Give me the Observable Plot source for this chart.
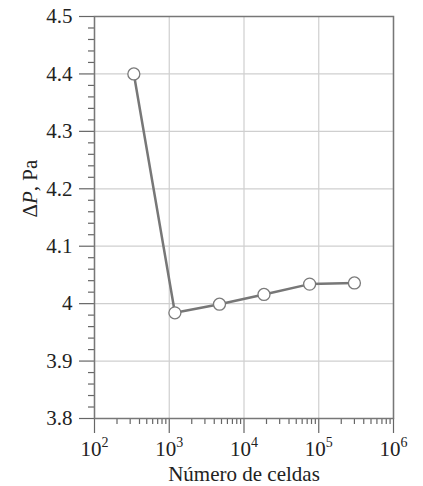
<!DOCTYPE html>
<html><head><meta charset="utf-8">
<script src="https://cdn.jsdelivr.net/npm/d3@7"></script>
<script src="https://cdn.jsdelivr.net/npm/@observablehq/plot@0.6"></script>
<style>
body{margin:0;background:#fff}
</style>
</head><body><div id="chart"></div>
<script>
const cells = [336, 1190, 4700, 18500, 75500, 300000];
const deltaP = [4.400, 3.984, 3.999, 4.016, 4.034, 4.036];
const xExponents = [2, 3, 4, 5, 6];
const yTicks = [3.8, 3.9, 4.0, 4.1, 4.2, 4.3, 4.4, 4.5];
const xLabel = "Número de celdas";
const yLabel = "ΔP, Pa";

const data = cells.map((c, i) => ({cells: c, dp: deltaP[i]}));
const xMajor = xExponents.map(e => 10 ** e);
const xMinor = xExponents.slice(0, -1).flatMap(e => d3.range(2, 10).map(k => k * 10 ** e));
const yMinor = d3.range(0, 36).map(i => +(3.8 + i * 0.02).toFixed(2))
  .filter(v => Math.abs(v * 10 - Math.round(v * 10)) > 1e-6);

const ink = "#666";
const txt = {fontFamily: "Liberation Serif", fontSize: 21, fill: "#222"};
const chart = Plot.plot({
  width: 423, height: 486,
  marginLeft: 94, marginRight: 30, marginTop: 16, marginBottom: 68,
  x: {type: "log", domain: [100, 1e6]},
  y: {domain: [3.8, 4.5]},
  marks: [
    Plot.gridX(xMajor, {stroke: "#cfcfcf", strokeOpacity: 1, strokeWidth: 1.2}),
    Plot.gridY(yTicks, {stroke: "#cfcfcf", strokeOpacity: 1, strokeWidth: 1.2}),
    Plot.axisX(xMinor, {tickSize: 6, tickFormat: () => "", stroke: ink, strokeWidth: 1.2, label: null}),
    Plot.axisX(xMajor, {...txt, tickSize: 15, tickPadding: 8, tickFormat: d => "10^" + Math.round(Math.log10(d)), stroke: ink, strokeWidth: 1.2, label: null}),
    Plot.axisY(yMinor, {tickSize: 6, tickFormat: () => "", stroke: ink, strokeWidth: 1.2, label: null}),
    Plot.axisY(yTicks, {...txt, tickSize: 15, tickPadding: 7, tickFormat: d => String(+d.toFixed(1)), stroke: ink, strokeWidth: 1.2, label: null}),
    Plot.frame({stroke: "#777", strokeWidth: 1.5}),
    Plot.text([xLabel], {...txt, frameAnchor: "bottom", dy: 56, lineAnchor: "middle"}),
    Plot.text([yLabel], {...txt, frameAnchor: "left", dx: -64, rotate: -90, lineAnchor: "middle"}),
    Plot.line(data, {x: "cells", y: "dp", stroke: "#777", strokeWidth: 2.5}),
    Plot.dot(data, {x: "cells", y: "dp", r: 6, fill: "white", stroke: "#7a7a7a", strokeWidth: 1.3})
  ]
});
document.getElementById("chart").appendChild(chart);

// superscript exponents on the x tick labels, italic P in the y label
d3.select(chart).selectAll("text").each(function() {
  const t = this.textContent;
  const m = /^10\^(\d)$/.exec(t);
  if (m) {
    const sel = d3.select(this);
    sel.text("");
    sel.append("tspan").text("10");
    sel.append("tspan").attr("dy", "-9").attr("font-size", "14").text(m[1]);
  } else if (t === yLabel) {
    const sel = d3.select(this);
    sel.text("");
    sel.append("tspan").text("Δ");
    sel.append("tspan").attr("font-style", "italic").text("P");
    sel.append("tspan").text(", Pa");
  }
});
</script>
</body></html>
